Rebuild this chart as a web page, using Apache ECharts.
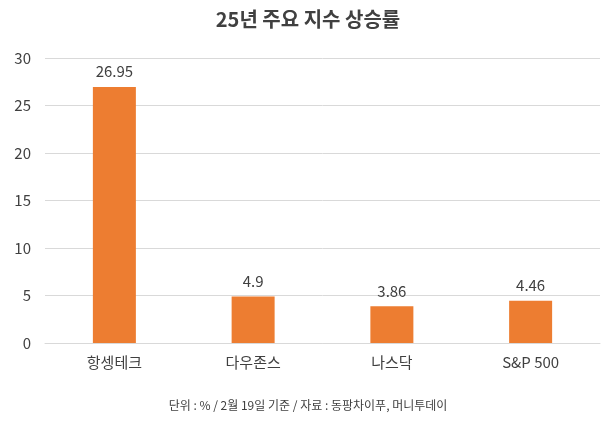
<!DOCTYPE html>
<html>
<head>
<meta charset="UTF-8">
<script src="https://cdn.jsdelivr.net/npm/echarts@6/dist/echarts.min.js"></script>
<style>html,body{margin:0;background:#fff}#main{width:616px;height:421px}</style>
</head>
<body>
<div id="main"></div>
<script>
var categories = ['항셍테크', '다우존스', '나스닥', 'S&P 500'];
var values = [26.95, 4.9, 3.86, 4.46];
var labels = ['26.95', '4.9', '3.86', '4.46'];
var font = '"Noto Sans CJK KR", sans-serif';

var chart = echarts.init(document.getElementById('main'));
chart.setOption({
	textStyle: { fontFamily: font },
	title: [{
		text: '25년 주요 지수 상승률', left: 'center', top: 4,
		textStyle: { fontFamily: font, fontSize: 20, fontWeight: 'bold', color: '#404040' }
	}, {
		text: '단위 : % / 2월 19일 기준 / 자료 : 동팡차이푸, 머니투데이', left: 'center', top: 394,
		textStyle: { fontFamily: font, fontSize: 12, fontWeight: 'normal', color: '#404040' }
	}],
	grid: { left: 45, right: 16, top: 58, bottom: 78 },
	xAxis: {
		type: 'category', data: categories,
		axisLine: { lineStyle: { color: '#d9d9d9' } },
		axisTick: { show: false },
		axisLabel: { fontSize: 15, color: '#404040', margin: 12 }
	},
	yAxis: {
		type: 'value', min: 0, max: 30, interval: 5,
		axisLine: { show: false }, axisTick: { show: false },
		splitLine: { lineStyle: { color: '#d9d9d9' } },
		axisLabel: { fontSize: 15, color: '#404040', margin: 14 }
	},
	series: [{
		type: 'bar', data: values, barWidth: 43,
		itemStyle: { color: '#ED7D31' },
		label: {
			show: true, position: 'top', distance: 8, fontSize: 15, color: '#404040',
			formatter: function (p) { return labels[p.dataIndex]; }
		}
	}]
});
</script>
</body>
</html>
